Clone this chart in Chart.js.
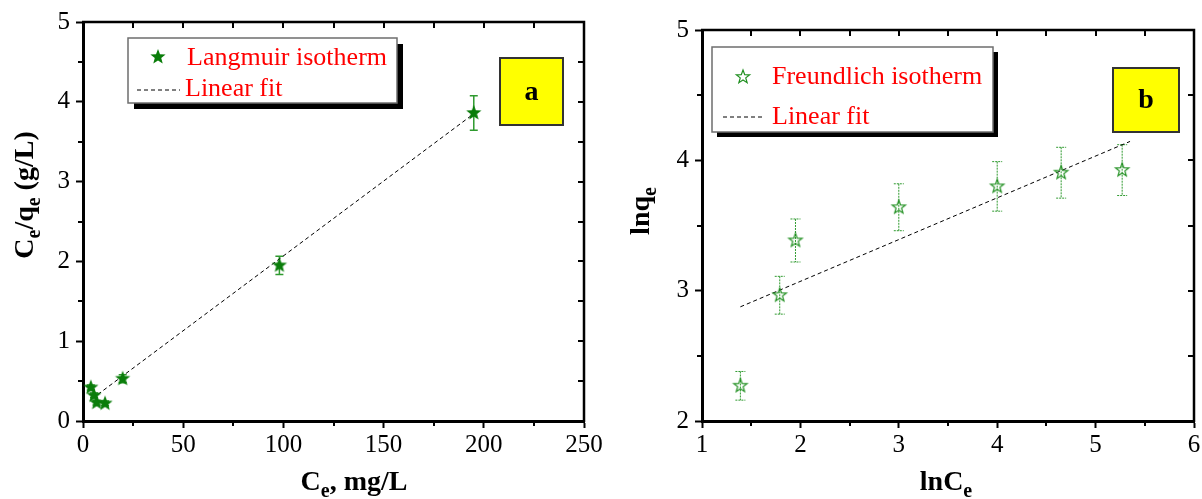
<!DOCTYPE html>
<html><head><meta charset="utf-8">
<script src="https://cdn.jsdelivr.net/npm/chart.js@4.4.0/dist/chart.umd.min.js"></script>
<style>
html,body{margin:0;padding:0;background:#fff;overflow:hidden}
#wa{position:absolute;left:0;top:0;width:606px;height:499px}
#wb{position:absolute;left:600px;top:0;width:602px;height:499px}
</style></head><body>
<div id="wa"><canvas id="ca" width="606" height="499"></canvas></div>
<div id="wb"><canvas id="cb" width="602" height="499"></canvas></div>
<script>
// ---------- Panel a : Langmuir ----------
const langCe   = [3.9, 5.5, 6.8, 11, 19.8, 98, 195];
const langCeQe = [0.42, 0.32, 0.23, 0.22, 0.53, 1.95, 3.86];
const langErr  = [0.03, 0.03, 0.03, 0.03, 0.05, 0.115, 0.215];
const langFitX = [4.6, 195];
const langFitY = [0.28, 3.85];
const aXTicks  = [0, 50, 100, 150, 200, 250];
const aXMinor  = [25, 75, 125, 175, 225];
const aYTicks  = [0, 1, 2, 3, 4, 5];
const aYMinor  = [0.5, 1.5, 2.5, 3.5, 4.5];

// ---------- Panel b : Freundlich ----------
const frLnCe  = [1.39, 1.79, 1.95, 3.0, 4.0, 4.65, 5.27];
const frLnQe  = [2.27, 2.965, 3.385, 3.64, 3.80, 3.905, 3.925];
const frErr   = [0.11, 0.145, 0.165, 0.18, 0.19, 0.195, 0.195];
const frFitX  = [1.39, 5.35];
const frFitY  = [2.876, 4.145];
const bXTicks = [1, 2, 3, 4, 5, 6];
const bXMinor = [1.5, 2.5, 3.5, 4.5, 5.5];
const bYTicks = [2, 3, 4, 5];
const bYMinor = [2.5, 3.5, 4.5];

const SERIF = '"Liberation Serif","Times New Roman",serif';

function starCanvas(R, r, fill, stroke, lw, dash){
  const s = Math.ceil(2*R+4);
  const c = document.createElement('canvas'); c.width=s; c.height=s;
  const g = c.getContext('2d');
  g.translate(s/2, s/2);
  g.beginPath();
  for (let k=0;k<10;k++){
    const rad = (k%2)? r : R;
    const a = -Math.PI/2 + k*Math.PI/5;
    g.lineTo(rad*Math.cos(a), rad*Math.sin(a));
  }
  g.closePath();
  if (fill){ g.fillStyle=fill; g.fill(); }
  if (stroke){ g.strokeStyle=stroke; g.lineWidth=lw; if(dash) g.setLineDash(dash); g.stroke(); }
  return c;
}
const starA = starCanvas(8, 3.4, '#0a7d0a', null, 0);
const starB = (function(){
  const c = starCanvas(7, 2.9, null, '#1f8f1f', 1.2, null);
  const g = c.getContext('2d');
  const m = c.width/2;
  g.strokeStyle = '#1f8f1f'; g.lineWidth = 2;
  g.beginPath(); g.moveTo(m-3, m+1); g.lineTo(m+3, m+1); g.stroke();
  return c;
})();

function drawParts(ctx, parts, cx, baseline, size, subSize, subDrop, color){
  ctx.fillStyle = color;
  ctx.textBaseline = 'alphabetic';
  ctx.textAlign = 'left';
  let total = 0;
  parts.forEach(p => { ctx.font = 'bold ' + (p.sub?subSize:size) + 'px ' + SERIF; total += ctx.measureText(p.t).width; });
  let x = cx - total/2;
  parts.forEach(p => {
    ctx.font = 'bold ' + (p.sub?subSize:size) + 'px ' + SERIF;
    ctx.fillText(p.t, x, baseline + (p.sub?subDrop:0));
    x += ctx.measureText(p.t).width;
  });
}

function makeDeco(cfg){
  return {
    id: 'deco',
    beforeDatasetsDraw(chart){
      const ctx = chart.ctx, xs = chart.scales.x, ys = chart.scales.y;
      ctx.save();
      ctx.strokeStyle = cfg.errColor; ctx.lineWidth = cfg.errWidth;
      if (cfg.errDash) ctx.setLineDash(cfg.errDash);
      cfg.ex.forEach((xv,i) => {
        const px = xs.getPixelForValue(xv);
        const y1 = ys.getPixelForValue(cfg.ey[i] + cfg.ee[i]);
        const y2 = ys.getPixelForValue(cfg.ey[i] - cfg.ee[i]);
        ctx.beginPath();
        ctx.moveTo(px, y1); ctx.lineTo(px, y2);
        ctx.moveTo(px - cfg.cap, y1); ctx.lineTo(px + cfg.cap, y1);
        ctx.moveTo(px - cfg.cap, y2); ctx.lineTo(px + cfg.cap, y2);
        ctx.stroke();
      });
      ctx.restore();
    },
    afterDraw(chart){
      const ctx = chart.ctx, xs = chart.scales.x, ys = chart.scales.y, ca = chart.chartArea;
      ctx.save();
      // frame top/right
      ctx.strokeStyle = '#000'; ctx.lineWidth = 2.5;
      ctx.beginPath();
      ctx.moveTo(ca.left-1, ca.top); ctx.lineTo(ca.right, ca.top); ctx.lineTo(ca.right, ca.bottom+1);
      ctx.stroke();
      ctx.lineWidth = 2;
      ctx.beginPath();
      cfg.xAll.forEach(v => { const p = Math.round(xs.getPixelForValue(v)); ctx.moveTo(p, ca.top); ctx.lineTo(p, ca.top+6); });
      cfg.yAll.forEach(v => { const p = Math.round(ys.getPixelForValue(v)); ctx.moveTo(ca.right, p); ctx.lineTo(ca.right-6, p); });
      cfg.xMinor.forEach(v => { const p = Math.round(xs.getPixelForValue(v)); ctx.moveTo(p, ca.bottom); ctx.lineTo(p, ca.bottom+5); });
      cfg.yMinor.forEach(v => { const p = Math.round(ys.getPixelForValue(v)); ctx.moveTo(ca.left, p); ctx.lineTo(ca.left-5, p); });
      ctx.stroke();
      // axis titles
      drawParts(ctx, cfg.xTitle, cfg.xTitlePos[0], cfg.xTitlePos[1], 28, 20, 7, '#000');
      ctx.save();
      ctx.translate(cfg.yTitlePos[0], cfg.yTitlePos[1]);
      ctx.rotate(-Math.PI/2);
      drawParts(ctx, cfg.yTitle, 0, 0, 28, 20, 7, '#000');
      ctx.restore();
      // legend box
      const L = cfg.legend;
      ctx.fillStyle = '#000';
      ctx.fillRect(L.x + L.sh, L.y + L.sh, L.w, L.h);
      ctx.fillStyle = '#fff';
      ctx.fillRect(L.x, L.y, L.w, L.h);
      ctx.strokeStyle = '#6e6e6e'; ctx.lineWidth = 1.5;
      ctx.strokeRect(L.x, L.y, L.w, L.h);
      ctx.drawImage(cfg.marker, L.mx - cfg.marker.width/2, L.my - cfg.marker.height/2);
      ctx.font = '26px ' + SERIF; ctx.fillStyle = '#ff0000'; ctx.textAlign='left'; ctx.textBaseline='alphabetic';
      ctx.fillText(L.t1, L.tx, L.b1);
      ctx.fillText('Linear fit', L.tx2, L.b2);
      ctx.strokeStyle = '#000'; ctx.lineWidth = 1; ctx.setLineDash([4,3]);
      ctx.beginPath(); ctx.moveTo(L.lx1, L.ly); ctx.lineTo(L.lx2, L.ly); ctx.stroke();
      ctx.setLineDash([]);
      // tag
      const T = cfg.tag;
      ctx.fillStyle = '#ffff00'; ctx.fillRect(T.x, T.y, T.w, T.h);
      ctx.strokeStyle = '#333'; ctx.lineWidth = 2; ctx.strokeRect(T.x, T.y, T.w, T.h);
      ctx.fillStyle = '#000'; ctx.font = 'bold 28px ' + SERIF; ctx.textAlign='center'; ctx.textBaseline='middle';
      ctx.fillText(T.t, T.x + T.w/2, T.y + T.h/2 + 1);
      ctx.restore();
    }
  };
}

function axisCfg(min, max, tickArr, fixedSize, isX){
  return {
    type: 'linear', min, max,
    afterBuildTicks: s => { s.ticks = tickArr.map(v => ({value: v})); },
    afterFit: s => {
      if (isX) s.height = fixedSize; else s.width = fixedSize;
      s.paddingLeft = 0; s.paddingRight = 0; s.paddingTop = 0; s.paddingBottom = 0;
    },
    grid: {display: true, drawOnChartArea: false, drawTicks: true, tickLength: 7, tickWidth: 2, tickColor: '#000'},
    border: {display: true, color: '#000', width: 3},
    ticks: {color: '#000', font: {family: SERIF, size: 25}, padding: isX ? 2 : 6, maxRotation: 0, autoSkip: false}
  };
}

function baseOptions(pad, xAx, yAx){
  return {
    responsive: false, animation: false, devicePixelRatio: 1,
    layout: {padding: pad},
    plugins: {legend: {display: false}, tooltip: {enabled: false}},
    scales: {x: xAx, y: yAx}
  };
}

new Chart(document.getElementById('ca'), {
  type: 'scatter',
  data: {datasets: [
    {label: 'Langmuir isotherm', data: langCe.map((x,i)=>({x, y: langCeQe[i]})), pointStyle: starA, pointRadius: 8, order: 0},
    {label: 'Linear fit', data: langFitX.map((x,i)=>({x, y: langFitY[i]})), showLine: true, borderColor: '#000', borderWidth: 1, borderDash: [4,3], pointRadius: 0, order: 1}
  ]},
  options: baseOptions({left: 0, right: 22, top: 22, bottom: 0},
    axisCfg(0, 250, aXTicks, 78, true), axisCfg(0, 5, aYTicks, 83, false)),
  plugins: [makeDeco({
    ex: langCe, ey: langCeQe, ee: langErr, errColor: '#2f9a2f', errWidth: 1.5, errDash: null, cap: 4,
    xAll: aXTicks.concat(aXMinor), yAll: aYTicks.concat(aYMinor), xMinor: aXMinor, yMinor: aYMinor,
    xTitle: [{t:'C'},{t:'e',sub:true},{t:', mg/L'}], xTitlePos: [354, 490],
    yTitle: [{t:'C'},{t:'e',sub:true},{t:'/q'},{t:'e',sub:true},{t:' (g/L)'}], yTitlePos: [33, 195],
    marker: starA,
    legend: {x: 128, y: 38, w: 269, h: 65, sh: 6, mx: 158, my: 57, t1: 'Langmuir isotherm', tx: 187, b1: 65, tx2: 185, b2: 96, lx1: 137, lx2: 180, ly: 90},
    tag: {x: 500, y: 58, w: 63, h: 67, t: 'a'}
  })]
});

new Chart(document.getElementById('cb'), {
  type: 'scatter',
  data: {datasets: [
    {label: 'Freundlich isotherm', data: frLnCe.map((x,i)=>({x, y: frLnQe[i]})), pointStyle: starB, pointRadius: 7, order: 0},
    {label: 'Linear fit', data: frFitX.map((x,i)=>({x, y: frFitY[i]})), showLine: true, borderColor: '#000', borderWidth: 1, borderDash: [4,3], pointRadius: 0, order: 1}
  ]},
  options: baseOptions({left: 0, right: 8, top: 30, bottom: 0},
    axisCfg(1, 6, bXTicks, 78, true), axisCfg(2, 5, bYTicks, 102, false)),
  plugins: [makeDeco({
    ex: frLnCe, ey: frLnQe, ee: frErr, errColor: '#2f9a2f', errWidth: 1, errDash: [2,1], cap: 5,
    xAll: bXTicks.concat(bXMinor), yAll: bYTicks.concat(bYMinor), xMinor: bXMinor, yMinor: bYMinor,
    xTitle: [{t:'lnC'},{t:'e',sub:true}], xTitlePos: [346, 490],
    yTitle: [{t:'lnq'},{t:'e',sub:true}], yTitlePos: [49, 211],
    marker: starB,
    legend: {x: 112, y: 47, w: 281, h: 85, sh: 5, mx: 143, my: 77, t1: 'Freundlich isotherm', tx: 172, b1: 84, tx2: 172, b2: 124, lx1: 123, lx2: 165, ly: 117},
    tag: {x: 513, y: 68, w: 66, h: 64, t: 'b'}
  })]
});
</script>
</body></html>
